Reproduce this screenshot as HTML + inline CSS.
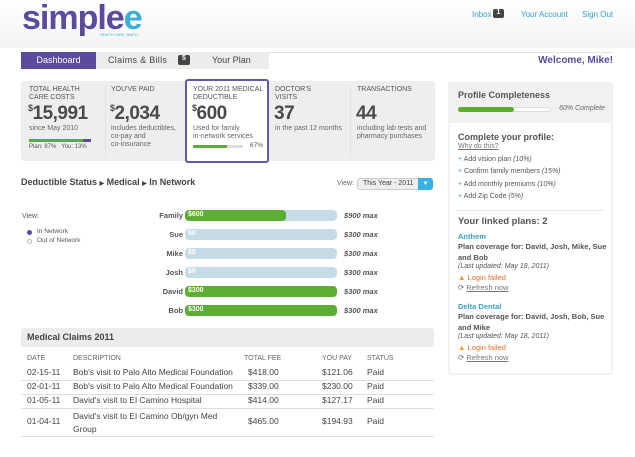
<!DOCTYPE html>
<html><head><meta charset="utf-8"><style>
*{margin:0;padding:0;box-sizing:border-box}
body{width:635px;height:457px;overflow:hidden;background:#fff;font-family:"Liberation Sans",Arial,sans-serif;color:#444;position:relative;font-size:8px}
.a{position:absolute;white-space:nowrap}
.top{position:absolute;left:0;top:0;width:635px;height:48px;background:linear-gradient(#fff,#f4f4f4)}
.lnk{color:#3aa0c8;font-size:8px}
.lbl{font-size:7px;color:#555;line-height:8px;text-transform:uppercase}
.big{font-size:19px;font-weight:bold;color:#4a4a4a;letter-spacing:-0.5px}
.big sup{font-size:9px;vertical-align:8px}
.sub{font-size:7px;color:#666;line-height:8px}
.bar{position:absolute;left:185px;width:152px;height:11px;border-radius:4px;background:#c6dbe6}
.bar i{position:absolute;left:0;top:0;bottom:0;background:#5aae32;border-radius:4px}
.bar b{position:absolute;left:3px;top:1px;font-size:7px;color:#fff}
.nm{position:absolute;right:452px;font-size:7.5px;font-weight:bold;color:#555}
.mx{position:absolute;left:344px;font-size:7.5px;font-weight:bold;font-style:italic;color:#555}
.td{position:absolute;font-size:8.5px;color:#444;white-space:nowrap}
.th{position:absolute;font-size:7px;color:#666;top:355px}
.sep{position:absolute;left:21px;width:413px;height:1px;background:#ddd}
.rp{position:absolute;font-size:7.5px;color:#555;white-space:nowrap;left:458px}
</style></head><body>
<div class="top"></div>
<div class="a" style="left:22px;top:-1px;font-size:34px;font-weight:bold;color:#5b4a9e;letter-spacing:-1px">simple<span style="color:#3ab0d8">e</span></div>
<div class="a" style="left:100px;top:33px;font-size:3.5px;color:#3ab0d8">HEALTH CARE, SIMPLY</div>
<div class="a lnk" style="left:472px;top:10px">Inbox</div>
<div class="a" style="left:493px;top:9px;width:11px;height:9px;background:#444;border-radius:2px;color:#fff;font-size:7px;text-align:center;font-weight:bold">1</div>
<div class="a lnk" style="left:521px;top:10px">Your Account</div>
<div class="a lnk" style="left:582px;top:10px">Sign Out</div>
<div class="a" style="left:21px;top:52px;width:592px;height:1px;background:#e4e4e4"></div>
<div class="a" style="left:21px;top:52px;width:248px;height:17px;background:#ececec"></div>
<div class="a" style="left:21px;top:52px;width:75px;height:17px;background:#5b4a9e;color:#fff;font-size:9px;text-align:center;line-height:17px">Dashboard</div>
<div class="a" style="left:108px;top:55px;font-size:9px;color:#444;letter-spacing:0.3px">Claims &amp; Bills</div>
<div class="a" style="left:178px;top:55px;width:12px;height:10px;background:#444;border-radius:2px;color:#fff;font-size:7px;text-align:center;font-weight:bold">5</div>
<div class="a" style="left:212px;top:55px;font-size:9px;color:#444">Your Plan</div>
<div class="a" style="right:22px;top:55px;font-size:10px;font-weight:bold;color:#5b4a9e">Welcome, Mike!</div>

<div class="a" style="left:21px;top:81px;width:414px;height:80px;background:#efeeee;border-radius:3px"></div>
<div class="a" style="left:105px;top:85px;width:1px;height:72px;background:#e2e2e2"></div>
<div class="a" style="left:350px;top:85px;width:1px;height:72px;background:#e2e2e2"></div>
<div class="a" style="left:185px;top:79px;width:84px;height:84px;background:#fff;border:2px solid #6a56a8;border-radius:3px"></div>
<div class="a lbl" style="left:29px;top:86px">Total Health<br>Care Costs</div>
<div class="a big" style="left:28px;top:103px"><sup>$</sup>15,991</div>
<div class="a sub" style="left:29px;top:125px">since May 2010</div>
<div class="a" style="left:29px;top:139px;width:62px;height:3px;background:#5aae32"></div>
<div class="a" style="left:83px;top:139px;width:8px;height:3px;background:#5b4a9e"></div>
<div class="a" style="left:29px;top:144px;font-size:6px;color:#555">Plan: 87%&nbsp;&nbsp; You: 13%</div>
<div class="a lbl" style="left:111px;top:86px">You've paid</div>
<div class="a big" style="left:110px;top:103px"><sup>$</sup>2,034</div>
<div class="a sub" style="left:111px;top:125px">includes deductibles,<br>co-pay and<br>co-insurance</div>
<div class="a lbl" style="left:193px;top:86px">Your 2011 Medical<br>Deductible</div>
<div class="a big" style="left:192px;top:103px"><sup>$</sup>600</div>
<div class="a sub" style="left:193px;top:125px">Used for family<br>in-network services</div>
<div class="a" style="left:193px;top:145px;width:50px;height:3px;background:#ddd"></div>
<div class="a" style="left:193px;top:145px;width:34px;height:3px;background:#5aae32"></div>
<div class="a" style="left:250px;top:142px;font-size:6.5px;color:#555">67%</div>
<div class="a lbl" style="left:275px;top:86px">Doctor's<br>Visits</div>
<div class="a big" style="left:274px;top:103px">37</div>
<div class="a sub" style="left:275px;top:125px">in the past 12 months</div>
<div class="a lbl" style="left:357px;top:86px">Transactions</div>
<div class="a big" style="left:356px;top:103px">44</div>
<div class="a sub" style="left:357px;top:125px">including lab tests and<br>pharmacy purchases</div>

<div class="a" style="left:448px;top:82px;width:165px;height:293px;background:#f1f1f1;border-radius:3px"></div>
<div class="a" style="left:450px;top:123px;width:161px;height:250px;background:#fff"></div>
<div class="a" style="left:458px;top:90px;font-size:9px;font-weight:bold;color:#555">Profile Completeness</div>
<div class="a" style="left:458px;top:107px;width:93px;height:5px;background:#fff;border-radius:3px;border:1px solid #ddd"></div>
<div class="a" style="left:458px;top:107px;width:56px;height:5px;background:#5aae32;border-radius:3px"></div>
<div class="a" style="right:30px;top:105px;font-size:7px;font-style:italic;color:#666">60% Complete</div>
<div class="rp" style="top:132px;font-size:9px;font-weight:bold">Complete your profile:</div>
<div class="rp" style="top:143px;font-size:7px;text-decoration:underline;color:#777">Why do this?</div>
<div class="rp" style="top:156px;font-size:7px"><span style="color:#3aa0c8">+</span> Add vision plan <i>(10%)</i></div>
<div class="rp" style="top:168px;font-size:7px"><span style="color:#3aa0c8">+</span> Confirm family members <i>(15%)</i></div>
<div class="rp" style="top:181px;font-size:7px"><span style="color:#3aa0c8">+</span> Add monthly premiums <i>(10%)</i></div>
<div class="rp" style="top:193px;font-size:7px"><span style="color:#3aa0c8">+</span> Add Zip Code <i>(5%)</i></div>
<div class="a" style="left:456px;top:210px;width:148px;height:1px;background:#e6e6e6"></div>
<div class="rp" style="top:216px;font-size:9.5px;font-weight:bold">Your linked plans: 2</div>
<div class="rp" style="top:232px;font-weight:bold;color:#3aa0c8">Anthem</div>
<div class="rp" style="top:241px;font-weight:bold;line-height:11px">Plan coverage for: David, Josh, Mike, Sue<br>and Bob</div>
<div class="rp" style="top:263px;font-style:italic;font-size:7px">(Last updated: May 18, 2011)</div>
<div class="rp" style="top:273px;color:#e8702a"><span style="color:#e8a020">▲</span> Login failed</div>
<div class="rp" style="top:283px;color:#777">⟳ <u>Refresh now</u></div>
<div class="rp" style="top:302px;font-weight:bold;color:#3aa0c8">Delta Dental</div>
<div class="rp" style="top:311px;font-weight:bold;line-height:11px">Plan coverage for: David, Josh, Bob, Sue<br>and Mike</div>
<div class="rp" style="top:333px;font-style:italic;font-size:7px">(Last updated: May 18, 2011)</div>
<div class="rp" style="top:343px;color:#e8702a"><span style="color:#e8a020">▲</span> Login failed</div>
<div class="rp" style="top:353px;color:#777">⟳ <u>Refresh now</u></div>

<div class="a" style="left:21px;top:177px;font-size:9px;font-weight:bold;color:#444">Deductible Status <span style="font-size:6px">▶</span> Medical <span style="font-size:6px">▶</span> In Network</div>
<div class="a" style="left:337px;top:180px;font-size:7px;color:#666">View:</div>
<div class="a" style="left:357px;top:178px;width:76px;height:12px;background:#eee;border:1px solid #ccc;border-radius:3px;font-size:7px;line-height:10px;padding-left:5px;color:#444">This Year - 2011</div>
<div class="a" style="left:418px;top:178px;width:15px;height:12px;background:#3ab0e0;border-radius:0 3px 3px 0;color:#fff;font-size:6px;text-align:center;line-height:12px">▼</div>
<div class="a" style="left:22px;top:213px;font-size:7px;color:#555">View:</div>
<div class="a" style="left:27px;top:230px;width:5px;height:5px;border-radius:50%;background:#5b4a9e"></div>
<div class="a" style="left:37px;top:228px;font-size:6.5px;color:#555">In Network</div>
<div class="a" style="left:27px;top:239px;width:5px;height:5px;border-radius:50%;border:1px solid #bbb"></div>
<div class="a" style="left:37px;top:237px;font-size:6.5px;color:#555">Out of Network</div>

<div class="nm" style="top:211px">Family</div><div class="bar" style="top:210px"><i style="width:101px"></i><b>$600</b></div><div class="mx" style="top:211px">$900 max</div>
<div class="nm" style="top:230px">Sue</div><div class="bar" style="top:229px"><b>$0</b></div><div class="mx" style="top:230px">$300 max</div>
<div class="nm" style="top:249px">Mike</div><div class="bar" style="top:248px"><b>$0</b></div><div class="mx" style="top:249px">$300 max</div>
<div class="nm" style="top:268px">Josh</div><div class="bar" style="top:267px"><b>$0</b></div><div class="mx" style="top:268px">$300 max</div>
<div class="nm" style="top:287px">David</div><div class="bar" style="top:286px"><i style="width:152px"></i><b>$300</b></div><div class="mx" style="top:287px">$300 max</div>
<div class="nm" style="top:306px">Bob</div><div class="bar" style="top:305px"><i style="width:152px"></i><b>$300</b></div><div class="mx" style="top:306px">$300 max</div>

<div class="a" style="left:21px;top:328px;width:413px;height:19px;background:#ececec;border-radius:3px"></div>
<div class="a" style="left:27px;top:332px;font-size:9px;font-weight:bold;color:#444">Medical Claims 2011</div>
<div class="th" style="left:27px">DATE</div><div class="th" style="left:73px">DESCRIPTION</div><div class="th" style="left:244px">TOTAL FEE</div><div class="th" style="left:322px">YOU PAY</div><div class="th" style="left:367px">STATUS</div>
<div class="td" style="left:27px;top:367px">02-15-11</div><div class="td" style="left:73px;top:367px">Bob's visit to Palo Alto Medical Foundation</div><div class="td" style="left:248px;top:367px">$418.00</div><div class="td" style="left:322px;top:367px">$121.06</div><div class="td" style="left:367px;top:367px">Paid</div>
<div class="sep" style="top:380px"></div>
<div class="td" style="left:27px;top:381px">02-01-11</div><div class="td" style="left:73px;top:381px">Bob's visit to Palo Alto Medical Foundation</div><div class="td" style="left:248px;top:381px">$339.00</div><div class="td" style="left:322px;top:381px">$230.00</div><div class="td" style="left:367px;top:381px">Paid</div>
<div class="sep" style="top:394px"></div>
<div class="td" style="left:27px;top:395px">01-05-11</div><div class="td" style="left:73px;top:395px">David's visit to El Camino Hospital</div><div class="td" style="left:248px;top:395px">$414.00</div><div class="td" style="left:322px;top:395px">$127.17</div><div class="td" style="left:367px;top:395px">Paid</div>
<div class="sep" style="top:408px"></div>
<div class="td" style="left:27px;top:416px">01-04-11</div><div class="td" style="left:73px;top:410px;line-height:13px">David's visit to El Camino Ob/gyn Med<br>Group</div><div class="td" style="left:248px;top:416px">$465.00</div><div class="td" style="left:322px;top:416px">$194.93</div><div class="td" style="left:367px;top:416px">Paid</div>
<div class="sep" style="top:436px"></div>
</body></html>
